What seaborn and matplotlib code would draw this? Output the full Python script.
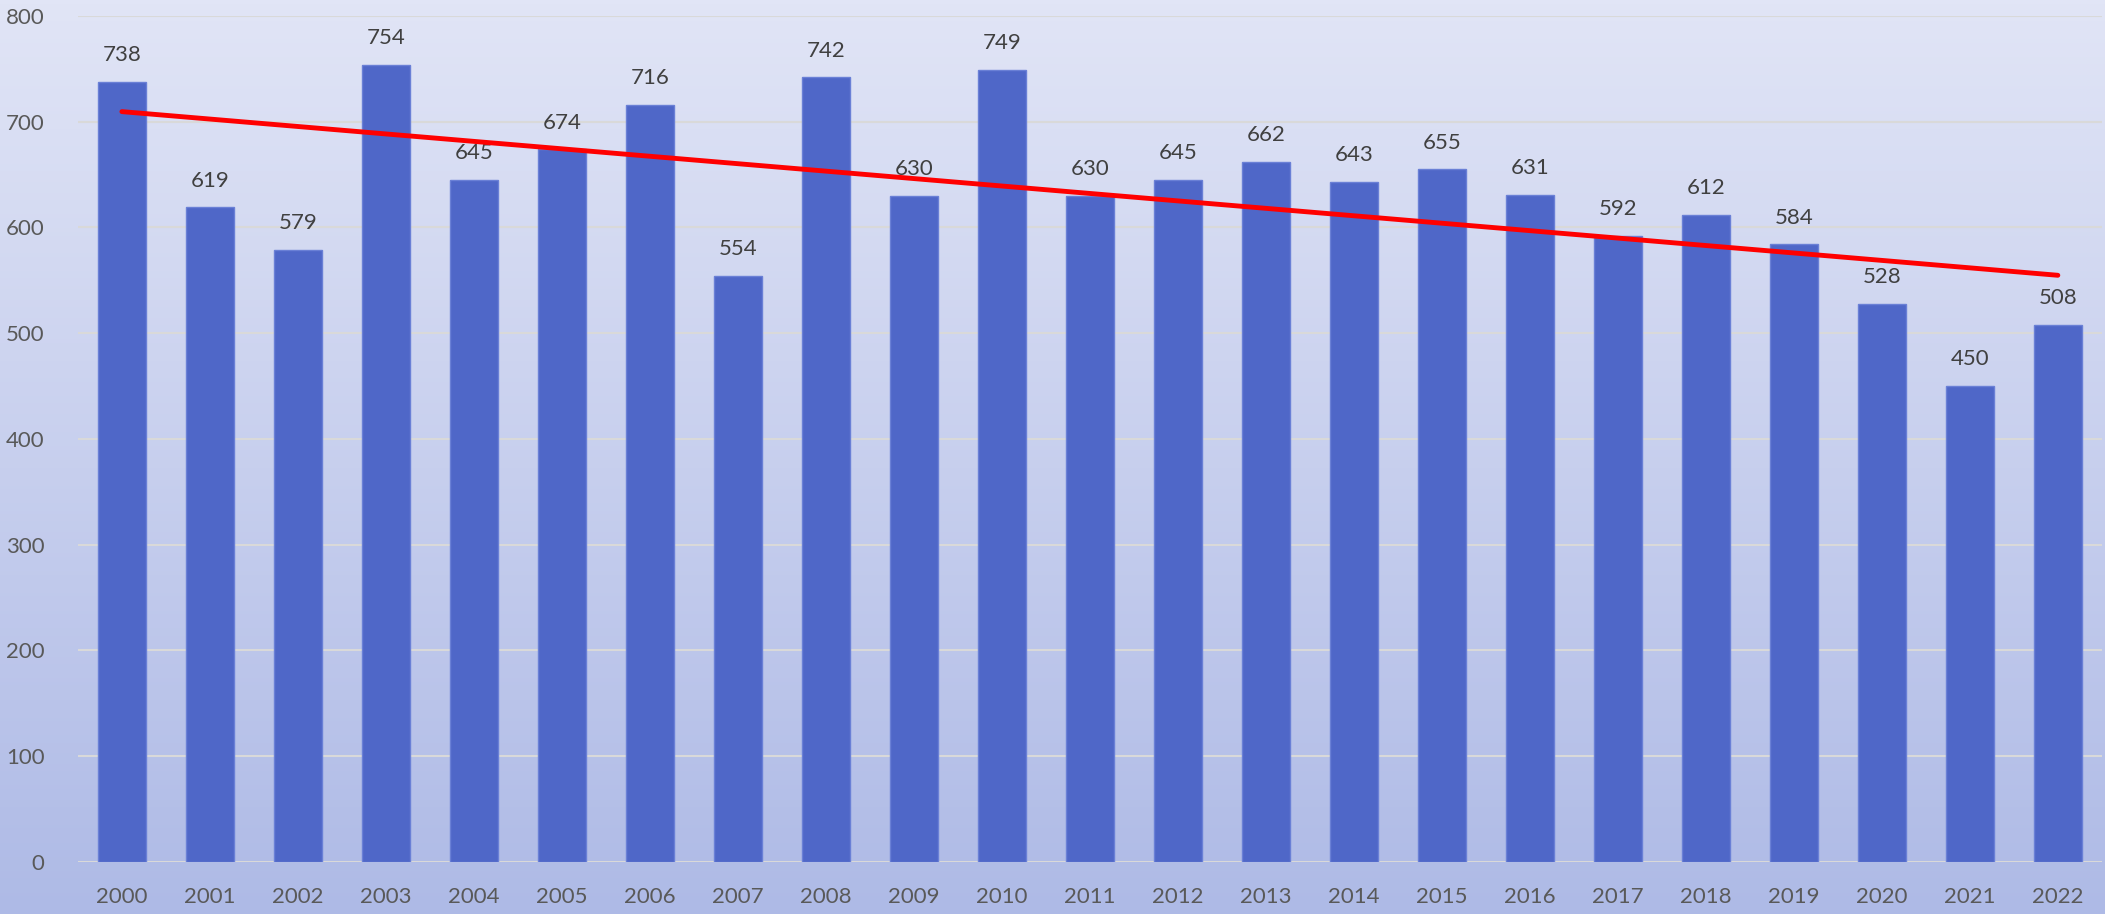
import numpy as np
import pandas as pd
import matplotlib
matplotlib.use("Agg")
import matplotlib.pyplot as plt
import seaborn as sns
from matplotlib.colors import LinearSegmentedColormap

years = [str(y) for y in range(2000, 2023)]
values = [738, 619, 579, 754, 645, 674, 716, 554, 742, 630, 749, 630,
          645, 662, 643, 655, 631, 592, 612, 584, 528, 450, 508]
y_ticks = [0, 100, 200, 300, 400, 500, 600, 700, 800]

df = pd.DataFrame({"year": years, "value": values})

sns.set_theme(style="white")
plt.rcParams['font.family'] = ['Lato', 'DejaVu Sans']

fig = plt.figure(figsize=(21.05, 9.14), dpi=100)

# gradient background over whole figure
bg = fig.add_axes([0, 0, 1, 1], zorder=0)
grad = np.linspace(0, 1, 256).reshape(-1, 1)
cmap = LinearSegmentedColormap.from_list("bg", ["#E1E5F6", "#AEBAE6"])
bg.imshow(grad, aspect="auto", cmap=cmap, extent=[0, 1, 0, 1], origin="upper")
bg.axis("off")

ax = fig.add_axes([0.037, 0.057, 0.9615, 0.9255], zorder=1)
ax.set_facecolor("none")

sns.barplot(data=df, x="year", y="value", color="#4F67C8", width=0.54,
            saturation=1, ax=ax, zorder=2)
for p in ax.patches:
    p.set_edgecolor("#6A80D6")
    p.set_linewidth(1)

ax.bar_label(ax.containers[0], labels=[str(v) for v in values], padding=12,
             fontsize=16, color="#404040")

# linear trend line
idx = np.arange(len(values))
slope, intercept = np.polyfit(idx, values, 1)
ax.plot(idx, slope * idx + intercept, color="#FF0000", lw=3.5,
        solid_capstyle="round", zorder=3)

ax.set_ylim(0, 800)
ax.set_xlim(-0.5, len(values) - 0.5)
ax.set_yticks(y_ticks)
ax.yaxis.grid(True, color="#D9D9D9", lw=1.5, zorder=0)
ax.set_axisbelow(True)
ax.axhline(0, color="#D9D9D9", lw=2, zorder=1)
sns.despine(ax=ax, left=True, bottom=True)
ax.tick_params(axis="both", length=0, labelsize=16, labelcolor="#595959")
ax.tick_params(axis="x", pad=18)
ax.tick_params(axis="y", pad=24)
ax.set_xlabel("")
ax.set_ylabel("")

fig.savefig("out.png", dpi=100)
